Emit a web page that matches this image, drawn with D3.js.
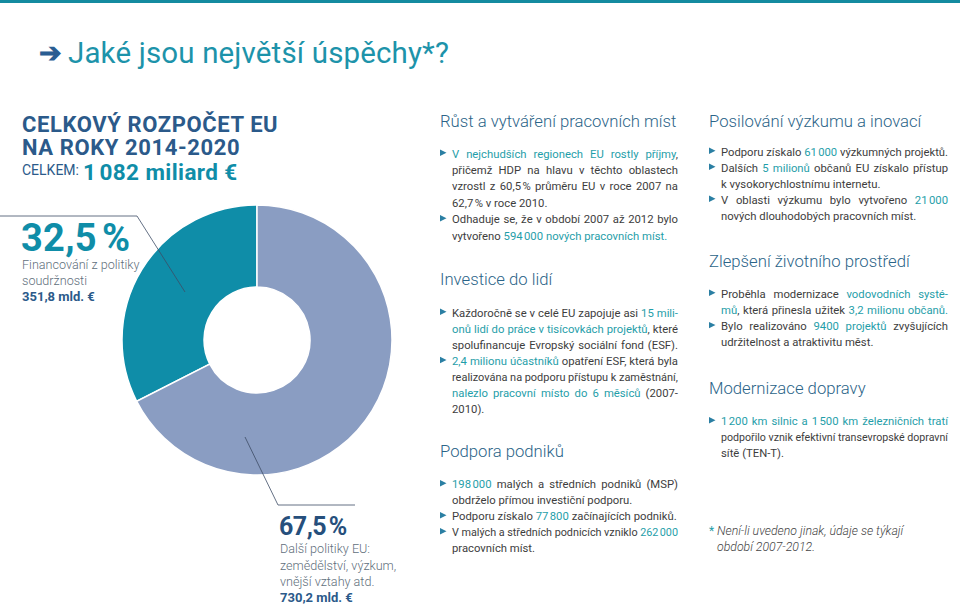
<!DOCTYPE html>
<html><head><meta charset="utf-8">
<script src="https://cdn.jsdelivr.net/npm/d3@7"></script>
<style>
html,body{margin:0;padding:0;background:#fff;}
svg{display:block;}
text{font-family:Roboto,"Noto Sans",sans-serif;}
</style></head>
<body>
<svg id="c" width="960" height="605"></svg>
<script>
// ---------- DATA ----------
const categories = ["Financování z politiky soudržnosti", "Další politiky EU: zemědělství, výzkum, vnější vztahy atd."];
const shares = [32.5, 67.5];
const amounts = [351.8, 730.2];
const totalBudget = "1\u202F082 miliard €";

const title = "Jaké jsou největší úspěchy*?";
const budgetTitle = ["CELKOVÝ ROZPOČET EU", "NA ROKY 2014-2020"];
const labelA = ["32,5\u202F%", "Financování z politiky", "soudržnosti", "351,8 mld. €"];
const labelB = ["67,5\u202F%", "Další politiky EU:", "zemědělství, výzkum,", "vnější vztahy atd.", "730,2 mld. €"];

// {…} = highlighted text; "J|" = justified line, "L|" = last line; "•" marks bullet start
const sectionGrowth = ["Růst a vytváření pracovních míst",
  "•J|{V nejchudších regionech EU rostly příjmy},",
  "J|přičemž HDP na hlavu v těchto oblastech",
  "J|vzrostl z 60,5\u202F% průměru EU v roce 2007 na",
  "L|62,7\u202F% v roce 2010.",
  "•J|Odhaduje se, že v období 2007 až 2012 bylo",
  "L|vytvořeno {594\u202F000 nových pracovních míst.}"];
const sectionPeople = ["Investice do lidí",
  "•J|Každoročně se v celé EU zapojuje asi {15 mili-}",
  "J|{onů lidí do práce v tisícovkách projektů}, které",
  "J|spolufinancuje Evropský sociální fond (ESF).",
  "•J|{2,4 milionu účastníků} opatření ESF, která byla",
  "J|realizována na podporu přístupu k zaměstnání,",
  "J|{nalezlo pracovní místo do 6 měsíců} (2007-",
  "L|2010)."];
const sectionBusiness = ["Podpora podniků",
  "•J|{198\u202F000} malých a středních podniků (MSP)",
  "L|obdrželo přímou investiční podporu.",
  "•L|Podporu získalo {77\u202F800} začínajících podniků.",
  "•J|V malých a středních podnicích vzniklo {262\u202F000}",
  "L|pracovních míst."];
const sectionResearch = ["Posilování výzkumu a inovací",
  "•L|Podporu získalo {61\u202F000} výzkumných projektů.",
  "•J|Dalších {5 milionů} občanů EU získalo přístup",
  "L|k vysokorychlostnímu internetu.",
  "•J|V oblasti výzkumu bylo vytvořeno {21\u202F000}",
  "L|nových dlouhodobých pracovních míst."];
const sectionEnvironment = ["Zlepšení životního prostředí",
  "•J|Proběhla modernizace {vodovodních systé-}",
  "J|{mů}, která přinesla užitek {3,2 milionu občanů.}",
  "•J|Bylo realizováno {9400 projektů} zvyšujících",
  "L|udržitelnost a atraktivitu měst."];
const sectionTransport = ["Modernizace dopravy",
  "•J|{1\u202F200 km silnic a 1\u202F500 km železničních tratí}",
  "J|podpořilo vznik efektivní transevropské dopravní",
  "L|sítě (TEN-T)."];
const footnote = ["Není-li uvedeno jinak, údaje se týkají", "období 2007-2012."];

// ---------- STYLE ----------
const C = {teal:"#0f8da8", grey:"#8a9dc2", dark:"#2b5a8a", head:"#2b6488", hi:"#1f9ea9", body:"#3d3d3d", sub:"#5f6f7c", line:"#3d4d66"};
const svg = d3.select("#c");

// top bar
svg.append("rect").attr("x",0).attr("y",0).attr("width",960).attr("height",3).attr("fill","#148ba0");

// title
svg.append("text").attr("x",39).attr("y",62).attr("font-size",27).attr("fill","#2a5d92").attr("font-weight",700).text("➔");
svg.append("text").attr("x",68).attr("y",63).attr("font-size",29.5).attr("fill","#1d93aa").attr("letter-spacing",0.15).text(title);

// budget header (one text, two lines)
const bt = svg.append("text").attr("x",22).attr("y",132).attr("font-size",22).attr("font-weight",700)
  .attr("letter-spacing",0.6).attr("fill",C.dark);
budgetTitle.forEach((d,i)=>bt.append("tspan").attr("x",22).attr("y",132+i*22.5).text(d));
svg.append("text").attr("x",22).attr("y",175).attr("font-size",14).attr("fill",C.dark).text("CELKEM:");
svg.append("text").attr("x",83).attr("y",180).attr("font-size",22.5).attr("font-weight",700).attr("fill",C.teal).attr("letter-spacing",0.4).text(totalBudget);

// ---------- DONUT ----------
const cx = 257, cy = 340, rO = 135, rI = 53;
const pie = d3.pie().sort(null).startAngle(-shares[0]/100*2*Math.PI).endAngle(2*Math.PI - shares[0]/100*2*Math.PI);
const arcs = pie(shares);
const arc = d3.arc().innerRadius(rI).outerRadius(rO);
const color = d3.scaleOrdinal().domain(categories).range([C.teal, C.grey]);
svg.append("g").attr("transform",`translate(${cx},${cy})`)
  .selectAll("path").data(arcs).join("path")
  .attr("d",arc).attr("fill",(d,i)=>color(categories[i]))
  .attr("stroke","#fff").attr("stroke-width",1.5);

// leader lines
const lineA = [[0,216],[137,216],[185,292]];
const lineB = [[245,437],[278,505],[355,505]];
[lineA,lineB].forEach(p=>svg.append("path").attr("d",d3.line()(p)).attr("fill","none").attr("stroke",C.line).attr("stroke-width",0.8));

// label A (one text block)
const la = svg.append("text").attr("x",22).attr("y",251);
la.append("tspan").attr("x",21).attr("y",251).attr("font-size",38).attr("font-weight",700).attr("fill",C.teal).attr("letter-spacing",0.3).text(labelA[0]);
la.append("tspan").attr("x",22).attr("y",269).attr("font-size",12.6).attr("font-weight",300).attr("fill",C.sub).attr("letter-spacing",0).text(labelA[1]);
la.append("tspan").attr("x",22).attr("y",285).attr("font-size",12.6).attr("font-weight",300).attr("fill",C.sub).attr("letter-spacing",0).text(labelA[2]);
la.append("tspan").attr("x",22).attr("y",301).attr("font-size",13).attr("font-weight",700).attr("fill",C.dark).attr("letter-spacing",0).text(labelA[3]);
// label B (one text block)
const lb = svg.append("text").attr("x",280).attr("y",535);
lb.append("tspan").attr("x",279).attr("y",535).attr("font-size",25).attr("font-weight",700).attr("fill","#264f7c").attr("letter-spacing",-0.5).text(labelB[0]);
[1,2,3].forEach((k,i)=>lb.append("tspan").attr("x",280).attr("y",553+i*16.5).attr("font-size",12.6).attr("font-weight",300).attr("fill",C.sub).attr("letter-spacing",0).text(labelB[k]));
lb.append("tspan").attr("x",280).attr("y",602).attr("font-size",13).attr("font-weight",700).attr("fill",C.dark).attr("letter-spacing",0).text(labelB[4]);

// ---------- TEXT BLOCKS ----------
const FS = 11.3;
function parseLine(s){
  let bullet = false;
  if (s[0]==="•"){bullet=true; s=s.slice(1);}
  const justify = s.startsWith("J|"); s = s.slice(2);
  const words=[]; let cur=[]; let h=false; let buf="";
  const flush=()=>{ if(buf){cur.push({t:buf,h:h}); buf="";} };
  for (const ch of s){
    if (ch==="{"){flush(); h=true;}
    else if (ch==="}"){flush(); h=false;}
    else if (ch===" "){flush(); if(cur.length) words.push(cur); cur=[];}
    else buf+=ch;
  }
  flush(); if(cur.length) words.push(cur);
  return {bullet, justify, words};
}
function block(sec, x0, width, headY, y0, step){
  svg.append("text").attr("x",x0-12).attr("y",headY).attr("font-size",16.7).attr("font-weight",300)
    .attr("fill",C.head).text(sec[0]);
  const g = svg.append("g");
  sec.slice(1).forEach((s,li)=>{
    const L = parseLine(s);
    const y = y0 + li*step;
    if (L.bullet){
      g.append("path").attr("d",`M${x0-12},${y-8} L${x0-5.5},${y-4.8} L${x0-12},${y-1.6} Z`).attr("fill","#2b7fa3");
    }
    const nodes = L.words.map(w=>{
      const t = g.append("text").attr("y",y).attr("font-size",FS).attr("fill",C.body);
      w.forEach(p=>t.append("tspan").attr("fill",p.h?C.hi:C.body).text(p.t));
      return t;
    });
    let widths = nodes.map(n=>n.node().getComputedTextLength());
    const sum = d3.sum(widths);
    const sp = FS*0.25;
    const n = nodes.length;
    let gap = sp;
    if (L.justify && n>1){
      const minGap = 2.6;
      if (sum + minGap*(n-1) > width){
        const k = (width - minGap*(n-1))/sum;
        widths = widths.map((w,i)=>{ nodes[i].attr("textLength",w*k).attr("lengthAdjust","spacingAndGlyphs"); return w*k; });
        gap = minGap;
      } else gap = (width - sum)/(n-1);
    } else if (sum + sp*(n-1) > width){
      const k = (width - sp*(n-1))/sum;
      widths = widths.map((w,i)=>{ nodes[i].attr("textLength",w*k).attr("lengthAdjust","spacingAndGlyphs"); return w*k; });
    }
    let x = x0;
    nodes.forEach((nd,i)=>{ nd.attr("x",x); x += widths[i] + gap; });
  });
}
block(sectionGrowth, 452, 226, 127, 157.5, 16.4);
block(sectionPeople, 452, 226, 285, 316.5, 16.1);
block(sectionBusiness, 452, 226, 457, 488, 16);
block(sectionResearch, 721, 227, 127, 155.5, 16);
block(sectionEnvironment, 721, 227, 266.5, 297.5, 16.2);
block(sectionTransport, 721, 227, 394, 425, 16);

// footnote
svg.append("text").attr("x",709).attr("y",535).attr("font-size",12).attr("fill",C.hi).text("*");
footnote.forEach((t,i)=>svg.append("text").attr("x",717).attr("y",535+i*15.5).attr("font-size",12.3)
  .attr("font-style","italic").attr("font-weight",300).attr("fill","#444").text(t));
</script>
</body></html>
